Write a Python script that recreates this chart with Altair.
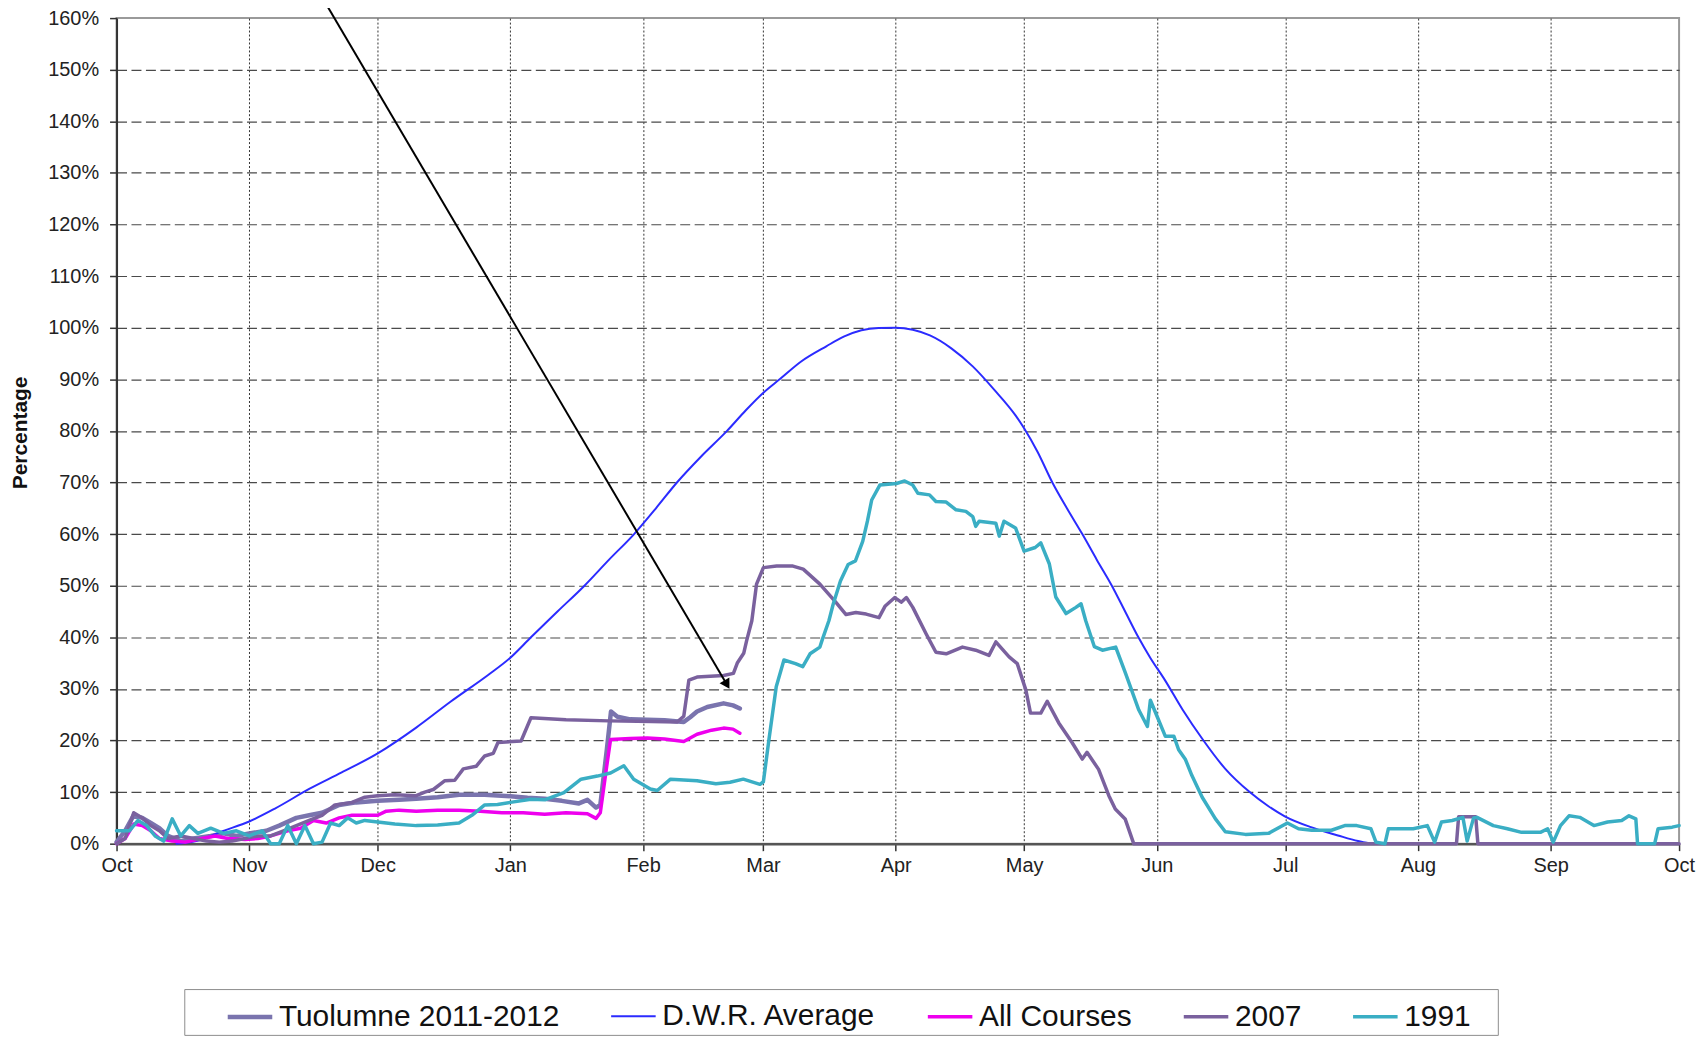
import json
import altair as alt
import pandas as pd

# ---------------- data (x = days since Oct 1, y = percent) ----------------
SERIES = ["Tuolumne 2011-2012", "D.W.R. Average", "All Courses", "2007", "1991"]
COLORS = ["#7a74ae", "#2b2bff", "#ee00ee", "#7a619e", "#3aaec4"]
WIDTHS = [4.5, 2, 3.5, 3.5, 3.5]

MONTH_DAYS = [0, 31, 61, 92, 123, 151, 182, 212, 243, 273, 304, 335, 365]
MONTH_LABELS = ["Oct", "Nov", "Dec", "Jan", "Feb", "Mar", "Apr", "May", "Jun",
                "Jul", "Aug", "Sep", "Oct"]
Y_TICKS = list(range(0, 161, 10))

TUOL_DAY = [0, 2, 4, 6, 8, 10, 12, 15, 18, 22, 25, 28, 31, 35, 38, 42, 45, 48, 52, 56,
            61, 66, 70, 75, 80, 86, 92, 96, 100, 104, 108, 110, 112, 113, 114.5, 115.5,
            117, 120, 124, 128, 132.5, 134, 135.6, 138, 141.8, 144, 145.6]
TUOL_PCT = [0.3, 2.5, 5.5, 5, 4, 3, 1.5, 0.5, 1, 1.5, 2, 1.5, 2, 2.5, 3.5, 5, 5.5, 6, 7.5, 8,
            8.3, 8.5, 8.7, 9, 9.5, 9.5, 9.2, 8.9, 8.7, 8.3, 7.8, 8.5, 7, 7.5, 18, 25.6,
            24.6, 24.1, 24, 23.9, 23.6, 24.5, 25.6, 26.5, 27.2, 26.8, 26.2]

DWR_DAY = [14, 20, 24, 31, 37, 45, 52.6, 61.2, 70, 78, 86.8, 91.8, 96.8, 103, 109.3, 115,
           120.9, 126, 130.9, 136.5, 142.6, 147, 151.1, 154.9, 160, 165.8, 170, 174, 178,
           182, 186, 190, 195, 200, 205, 210, 212, 215.1, 218.6, 222, 225.6, 229, 232.5,
           235.6, 238.7, 241.5, 244.9, 249, 253.9, 259, 264.7, 269, 272.9, 279, 285.3,
           290, 293]
DWR_PCT = [0, 0.8, 2.2, 4.3, 6.8, 10.6, 13.8, 17.6, 22.5, 27.5, 32.7, 35.9, 40, 45, 50, 55,
           60, 65, 70, 75, 80, 84, 87.4, 90, 93.5, 96.4, 98.3, 99.5, 99.95,
           100, 99.6, 98.5, 96, 92.5, 88, 83, 80.5, 76, 70, 65, 60, 55, 50,
           45, 40, 36, 31.7, 26, 20, 14.5, 10, 7.3, 5.3, 3.2, 1.6,
           0.5, 0]

ALL_DAY = [0, 2, 4, 6, 8, 10, 13, 16, 20, 23, 26, 30, 33, 36, 40, 43, 46, 49, 52, 55, 58,
           61, 63, 66, 70, 75, 80, 85, 90, 95, 100, 105, 110, 112, 113, 114.5, 115.4, 120,
           124, 128, 132.5, 135.6, 139, 141.8, 144, 145.6]
ALL_PCT = [0, 1, 3.8, 3.5, 2.5, 1, 0.5, 0.3, 1, 1.5, 1, 0.8, 1, 1.5, 2.5, 3, 4.5, 4, 5, 5.5, 5.5,
           5.5, 6.3, 6.5, 6.3, 6.5, 6.5, 6.3, 6, 6, 5.7, 6, 5.8, 4.9, 6, 15, 20.2, 20.4,
           20.5, 20.3, 19.8, 21.2, 22, 22.4, 22.2, 21.4]

Y2007_DAY = [0, 2, 4, 6, 8, 10, 12, 15, 18, 21, 24, 27, 30, 33, 36, 39, 42, 45, 48, 51, 55,
             58, 61, 65, 70, 72, 74, 76.7, 79, 81, 84, 86, 88, 89.1, 94.5, 96.8, 105, 115,
             125, 131, 132.5, 133.7, 135.6, 141.8, 144.1, 145, 146.5, 147.2, 148.4, 149.5,
             151.1, 154.2, 158, 160.4, 164.3, 168.1, 170.4, 172.7, 175.1, 178.1, 179.5,
             181.8, 183.3, 184.5, 186, 189.1, 191.4, 193.8, 197.6, 200.7, 203.8, 205.4,
             208.5, 210.4, 212.4, 213.5, 215.9, 217.4, 220.1, 223.2, 225.6, 226.7, 229.4,
             231.8, 233.3, 235.6, 237.6, 313, 313.5, 317.5, 318, 365]
Y2007_PCT = [0, 1, 6, 5, 3.5, 2.5, 1, 1.5, 1, 0.5, 0.3, 0.5, 1, 1.5, 1.5, 2.5, 3.5, 4.5, 5.5,
             7.5, 8, 9, 9.3, 9.5, 9.3, 10, 10.5, 12.2, 12.3, 14.5, 15, 17, 17.5, 19.6, 19.9,
             24.4, 24, 23.8, 23.7, 23.6, 24.7, 31.7, 32.3, 32.6, 33, 35, 36.9, 39.4, 43.2,
             50.3, 53.5, 53.8, 53.8, 53.2, 50.3, 46.7, 44.4, 44.8, 44.5, 43.8, 46, 47.7,
             46.8, 47.7, 45.8, 40.7, 37.1, 36.8, 38.1, 37.5, 36.5, 39.1, 36.2, 34.9, 29.8,
             25.3, 25.3, 27.6, 23.4, 19.6, 16.4, 17.7, 14.4, 9.3, 6.7, 4.8, 0, 0, 5.2, 5.2,
             0, 0]

Y1991_DAY = [0, 3, 5, 7, 9, 11, 13, 15, 17, 19, 22, 25, 28, 31, 34, 36, 38, 40, 42, 44, 46,
             48, 50, 52, 54, 56, 58, 61, 65, 70, 75, 80, 83, 86, 89, 92, 96.8, 100, 104.5,
             108.5, 112.3, 115.4, 118.5, 120.8, 124.7, 126.3, 129.4, 135.6, 140, 143.3,
             146.4, 150.3, 151.1, 152.4, 154.1, 155.9, 158.6, 160.3, 162, 164.3, 164.8,
             166.4, 167.4, 169.1, 170.9, 172.6, 174.3, 175.4, 176.4, 178.3, 182.2, 184.1,
             186, 187.2, 189.9, 191.4, 193.8, 196.1, 198.4, 200, 200.7, 201.5, 205.4, 206.2,
             207.3, 210, 212, 214.6, 215.9, 217.9, 219.4, 221.8, 224.1, 225.3, 226.4, 228.4,
             230.3, 233.4, 235.7, 238.8, 240.8, 241.5, 243.1, 245, 247, 248.1, 249.7, 251.2,
             253.6, 256.7, 259, 263.7, 269.1, 273.5, 276.1, 279.2, 283.8, 286.9, 289.7, 293,
             294.2, 296.3, 297.1, 302.9, 306.2, 307.9, 309.5, 312, 314.5, 315.5, 317, 317.8,
             321.6, 324.9, 328.2, 332.6, 334.3, 335.6, 337.3, 339.3, 341.8, 345.1, 348.3,
             351.6, 353.3, 354.9, 355.3, 359.3, 360.1, 363.4, 365]
Y1991_PCT = [2.5, 2.5, 4.5, 3.5, 1.5, 0.5, 4.8, 1.5, 3.5, 2, 3, 2, 2.5, 1.5, 2.5, 0, 0, 3.5, 0,
             3.5, 0, 0.3, 4, 3.5, 5, 4, 4.5, 4.2, 3.8, 3.5, 3.6, 4, 5.5, 7.5, 7.6, 8, 8.6, 8.5,
             9.9, 12.5, 13.1, 13.7, 15.1, 12.5, 10.6, 10.3, 12.5, 12.2, 11.6, 11.9, 12.5,
             11.5, 12, 20.2, 30.4, 35.6, 34.9, 34.3, 36.8, 38.1, 39.4, 43.2, 46.4, 50.9,
             54.1, 54.8, 58.6, 62.5, 66.6, 69.5, 69.8, 70.3, 69.5, 67.9, 67.6, 66.3, 66.2,
             64.7, 64.4, 63.4, 61.5, 62.5, 62.1, 59.6, 62.5, 61.2, 56.7, 57.4, 58.3, 54.2,
             47.8, 44.6, 45.8, 46.5, 43.2, 38.2, 37.5, 38.1, 33, 25.9, 22.7, 27.8, 24.6,
             20.8, 20.8, 18.2, 16.3, 13.2, 9, 4.8, 2.3, 1.8, 2, 4, 2.9, 2.6, 2.6, 3.5, 3.5,
             2.9, 0.3, 0, 2.9, 2.9, 3.5, 0.3, 4.2, 4.5, 5.1, 0.5, 5, 5.1, 3.5, 2.9, 2.2, 2.2,
             2.9, 0.3, 3.5, 5.4, 5.1, 3.5, 4.2, 4.5, 5.4, 4.8, 0, 0, 2.9, 3.2, 3.5]

# annotation arrow: start (above the plot) and head position, in data units
ARROW_START = [48.4, 163.5]
ARROW_HEAD = [142.4, 31.1]

# ---------------- build tables ----------------
SERIES_DATA = [
    (SERIES[0], TUOL_DAY, TUOL_PCT),
    (SERIES[1], DWR_DAY, DWR_PCT),
    (SERIES[2], ALL_DAY, ALL_PCT),
    (SERIES[3], Y2007_DAY, Y2007_PCT),
    (SERIES[4], Y1991_DAY, Y1991_PCT),
]

FONT = "Liberation Sans"
PLOT_W, PLOT_H = 1569, 829

month_expr = "{}[indexof({}, datum.value)]".format(json.dumps(MONTH_LABELS),
                                                    json.dumps(MONTH_DAYS))

x_enc = alt.X(
    "day:Q",
    scale=alt.Scale(domain=[0, 365], nice=False, zero=False),
    axis=alt.Axis(
        values=MONTH_DAYS, labelExpr=month_expr, title=None, labelFlush=False,
        labelOverlap=False, labelFont=FONT, labelFontSize=20, labelColor="#222",
        labelPadding=5, tickSize=7, tickColor="#333", tickWidth=1.5,
        domainColor="#555", domainWidth=2.5,
        grid=True, gridColor="#333", gridDash=[2, 2], gridWidth=1,
        gridOpacity={"condition": {"test": "datum.value == 0 || datum.value == 365",
                                   "value": 0}, "value": 1},
    ),
)
y_enc = alt.Y(
    "pct:Q",
    scale=alt.Scale(domain=[0, 160], nice=False, zero=True),
    axis=alt.Axis(
        values=Y_TICKS, labelExpr="datum.value + '%'", title="Percentage",
        labelOverlap=False, labelFont=FONT, labelFontSize=20, labelColor="#222",
        labelPadding=11, tickSize=7, tickColor="#333", tickWidth=1.5,
        domainColor="#333", domainWidth=2,
        grid=True, gridColor="#4a4a4a", gridDash=[10, 4.5], gridWidth=1.2,
        gridOpacity={"condition": {"test": "datum.value == 0 || datum.value == 160",
                                   "value": 0}, "value": 1},
        titleFont=FONT, titleFontSize=21, titleFontWeight="bold", titleColor="#111",
        titleAngle=270, titleBaseline="alphabetic", titleX=-90, titleY=416,
    ),
)
color_enc = alt.Color(
    "series:N",
    scale=alt.Scale(domain=SERIES, range=COLORS),
    legend=alt.Legend(title=" "),
)
width_enc = alt.StrokeWidth(
    "series:N",
    scale=alt.Scale(type="ordinal", domain=SERIES, range=WIDTHS),
    legend=alt.Legend(title=" "),
)

layers = []
for name, days, pcts in SERIES_DATA:
    df = pd.DataFrame({"series": name, "day": days, "pct": pcts,
                       "idx": list(range(len(days)))})
    mark = alt.Chart(df).mark_line(
        strokeJoin="round", strokeCap="round",
        interpolate="monotone" if name == "D.W.R. Average" else "linear",
    )
    layers.append(mark.encode(x=x_enc, y=y_enc, color=color_enc,
                              strokeWidth=width_enc, order="idx:Q"))

arrow_df = pd.DataFrame({"day": [ARROW_START[0]], "pct": [ARROW_START[1]],
                         "day2": [ARROW_HEAD[0]], "pct2": [ARROW_HEAD[1]]})
arrow_line = alt.Chart(arrow_df).mark_rule(color="black", strokeWidth=2).encode(
    x=alt.X("day:Q"), y=alt.Y("pct:Q"), x2="day2:Q", y2="pct2:Q")
head_df = pd.DataFrame({"day": [ARROW_HEAD[0]], "pct": [ARROW_HEAD[1]]})
arrow_head = alt.Chart(head_df).mark_point(
    shape="triangle", angle=149.4, filled=True, size=130, color="black", opacity=1
).encode(x=alt.X("day:Q"), y=alt.Y("pct:Q"))

chart = alt.layer(*layers, arrow_line, arrow_head).properties(
    width=PLOT_W, height=PLOT_H,
    padding={"left": 109, "top": 8, "right": 18, "bottom": 195},
    autosize=alt.AutoSizeParams(type="none"),
).configure_view(
    stroke="#9a9a9a", strokeWidth=2
).configure_legend(
    orient="none", legendX=68, legendY=975, direction="horizontal", columns=5,
    columnPadding=11, padding=3, symbolType="stroke", symbolSize=2000,
    symbolOffset=38, labelFont=FONT, labelFontSize=30, labelColor="#111",
    labelLimit=500, labelOffset=4, strokeColor="#8c8c8c", fillColor="white",
    titleOrient="right", titlePadding=24, titleFontSize=10,
)

chart.save("out.html", embed_options={"renderer": "svg", "actions": False})
